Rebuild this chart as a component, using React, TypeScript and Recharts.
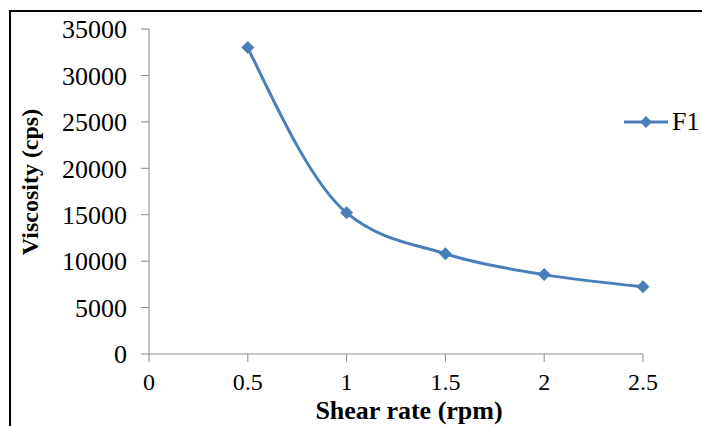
import { Legend, Line, LineChart, XAxis, YAxis, Label } from "recharts";

const shearRates = [0.5, 1, 1.5, 2, 2.5];
const viscosityF1 = [33000, 15200, 10800, 8550, 7250];
const xTicks = [0, 0.5, 1, 1.5, 2, 2.5];
const yTicks = [0, 5000, 10000, 15000, 20000, 25000, 30000, 35000];

const data = shearRates.map((x, i) => ({ x, F1: viscosityF1[i] }));

const LINE_COLOR = "#4A7EBB";
const AXIS_COLOR = "#8A8A8A";
const FONT = "Liberation Serif, Times New Roman, DejaVu Serif, serif";

function Diamond({ cx, cy, r = 6.5 }: { cx?: number; cy?: number; r?: number }) {
  if (cx == null || cy == null) return null;
  return <path d={`M${cx},${cy - r}L${cx + r},${cy}L${cx},${cy + r}L${cx - r},${cy}Z`} fill={LINE_COLOR} />;
}

function LegendContent() {
  return (
    <div style={{ display: "flex", alignItems: "center", fontFamily: FONT, fontSize: 26, color: "#000" }}>
      <svg width={48} height={16}>
        <line x1={2} y1={8} x2={46} y2={8} stroke={LINE_COLOR} strokeWidth={3} />
        <Diamond cx={24} cy={8} r={6} />
      </svg>
      <span style={{ marginLeft: 2 }}>F1</span>
    </div>
  );
}

export default function App() {
  return (
    <div style={{ position: "absolute", left: 0, top: 0, width: 702, height: 426, overflow: "hidden", background: "#fff" }}>
      <div
        style={{
          position: "absolute",
          left: 9,
          top: 10,
          width: 760,
          height: 500,
          border: "2px solid #000",
          boxSizing: "border-box",
        }}
      />
      <div style={{ position: "absolute", left: 0, top: 0 }}>
        <LineChart width={702} height={426} data={data} margin={{ top: 29, right: 59, bottom: 0, left: 0 }}>
          <XAxis
            dataKey="x"
            type="number"
            domain={[0, 2.5]}
            ticks={xTicks}
            height={72}
            tickSize={8}
            tickMargin={11}
            stroke={AXIS_COLOR}
            tick={{ fontFamily: FONT, fontSize: 24, fill: "#000" }}
          >
            <Label
              content={() => (
                <text x={409} y={419} textAnchor="middle" fontFamily={FONT} fontWeight="bold" fontSize={26} fill="#000">
                  Shear rate (rpm)
                </text>
              )}
            />
          </XAxis>
          <YAxis
            type="number"
            domain={[0, 35000]}
            ticks={yTicks}
            width={149}
            tickSize={8}
            tickMargin={14}
            stroke={AXIS_COLOR}
            tick={{ fontFamily: FONT, fontSize: 26, fill: "#000" }}
          >
            <Label
              content={() => (
                <text
                  x={38}
                  y={182}
                  textAnchor="middle"
                  transform="rotate(-90 38 182)"
                  fontFamily={FONT}
                  fontWeight="bold"
                  fontSize={24}
                  fill="#000"
                >
                  Viscosity (cps)
                </text>
              )}
            />
          </YAxis>
          <Legend
            layout="horizontal"
            verticalAlign="middle"
            align="center"
            content={<LegendContent />}
            wrapperStyle={{ left: 622, top: 107, width: 100 }}
          />
          <Line
            type="monotone"
            dataKey="F1"
            stroke={LINE_COLOR}
            strokeWidth={3}
            dot={(p: any) => <Diamond key={p.index} cx={p.cx} cy={p.cy} />}
            activeDot={false}
            isAnimationActive={false}
          />
        </LineChart>
      </div>
    </div>
  );
}
